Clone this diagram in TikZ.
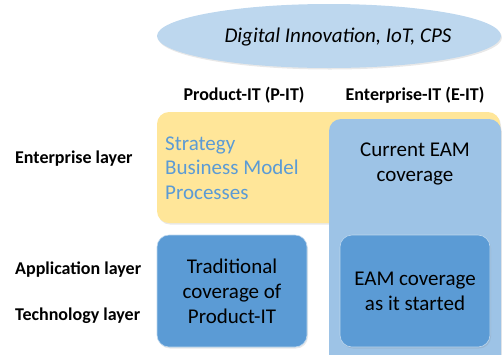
\documentclass[tikz,border=0pt]{standalone}
\usepackage{fontspec}
\setmainfont{Carlito}
\usetikzlibrary{shapes.geometric,shadows}
\definecolor{ellfill}{HTML}{BDD7EE}
\definecolor{yel}{HTML}{FFE699}
\definecolor{lblue}{HTML}{9DC3E6}
\definecolor{dblue}{HTML}{5B9BD5}
\definecolor{txtblue}{HTML}{5B9BD5}
\tikzset{
  px/.style={x=1pt,y=-1pt},
  shad/.style={drop shadow={opacity=0.18,shadow xshift=1pt,shadow yshift=-1.5pt}},
  layerlbl/.style={anchor=west,font=\fontsize{18}{20}\selectfont\bfseries,inner sep=0pt},
  colhead/.style={font=\fontsize{18}{20}\selectfont\bfseries,inner sep=0pt},
  boxtxt/.style={font=\fontsize{21}{25}\selectfont,align=center,text=black},
}
\begin{document}
\begin{tikzpicture}[px]
\useasboundingbox (0,0) rectangle (502,354);
\clip (0,0) rectangle (502,354);
% ellipse
\node[ellipse,fill=ellfill,minimum width=344pt,minimum height=64pt,shad] (ell) at (329,36) {};
\node[font=\fontsize{21}{24}\selectfont\itshape] (elltxt) at (338,37) {Digital Innovation, IoT, CPS};
% column headers
\node[colhead] (ph) at (244,95) {Product-IT (P-IT)};
\node[colhead] (eh) at (415,95) {Enterprise-IT (E-IT)};
% layer labels
\node[layerlbl] (el) at (15,159) {Enterprise layer};
\node[layerlbl] (al) at (15,270) {Application layer};
\node[layerlbl] (tl) at (15,316) {Technology layer};
% yellow box
\draw[fill=yel,draw=none,rounded corners=12pt,shad] (157,112) rectangle (500,223);
\node[anchor=base west,align=left,text=txtblue,font=\fontsize{21}{24.5}\selectfont,inner sep=0pt] (strat) at (165,199) {Strategy\\Business Model\\Processes};
% light blue E-IT box
\draw[fill=lblue,draw=none,rounded corners=12pt,shad] (329,119) rectangle (501,375);
\node[boxtxt] (cur) at (415,164) {Current EAM\\coverage};
% traditional box
\node[draw=ellfill,line width=0.6pt,fill=dblue,rounded corners=12pt,minimum width=150pt,minimum height=112pt,shad,boxtxt] (trad) at (232,291) {Traditional\\coverage of\\Product-IT};
% EAM started
\node[draw=ellfill,line width=0.6pt,fill=dblue,rounded corners=12pt,minimum width=150pt,minimum height=112pt,shad,boxtxt] (start) at (415,291) {EAM coverage\\as it started};
\end{tikzpicture}
\end{document}
